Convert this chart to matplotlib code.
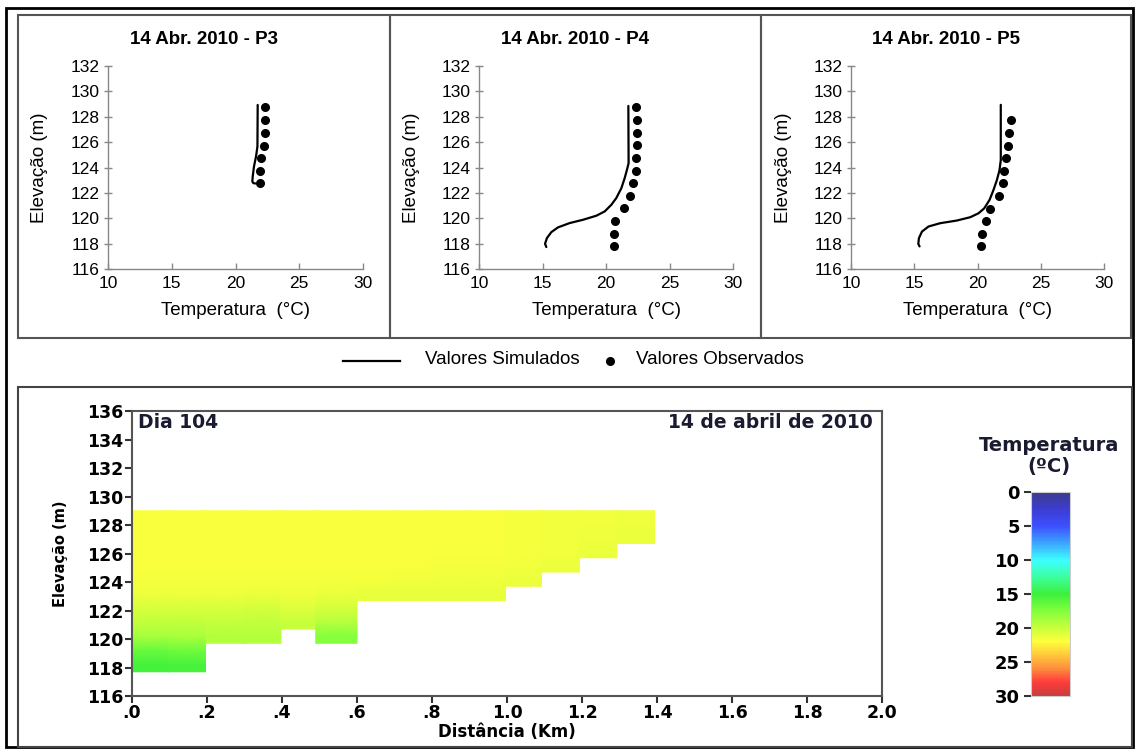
import matplotlib
matplotlib.use("Agg")
import matplotlib.pyplot as plt
import numpy as np
from matplotlib.colors import LinearSegmentedColormap, Normalize
from matplotlib.cm import ScalarMappable
from matplotlib.patches import Rectangle
from matplotlib.lines import Line2D

W, H = 1137, 751

# ---- perfis verticais (14 abr 2010) ----
p3_sim_T = [21.74, 21.72, 21.61, 21.45, 21.35, 21.32, 21.40, 21.56]
p3_sim_z = [128.93, 125.65, 124.87, 124.08, 123.29, 122.90, 122.77, 122.74]
p3_obs_T = [22.3, 22.3, 22.3, 22.2, 22.0, 21.9, 21.9]
p3_obs_z = [128.75, 127.75, 126.7, 125.7, 124.75, 123.7, 122.75]

p4_sim_T = [21.76, 21.78, 21.65, 21.47, 21.21, 20.81, 20.42, 19.90, 19.24,
            18.19, 17.14, 16.22, 15.70, 15.35, 15.20, 15.30]
p4_sim_z = [128.85, 124.34, 123.82, 123.16, 122.37, 121.59, 121.06, 120.54,
            120.20, 119.88, 119.62, 119.28, 118.91, 118.44, 117.99, 117.73]
p4_obs_T = [22.39, 22.44, 22.44, 22.44, 22.39, 22.39, 22.13, 21.86, 21.42,
            20.73, 20.63, 20.63]
p4_obs_z = [128.75, 127.75, 126.7, 125.74, 124.77, 123.72, 122.77, 121.77,
            120.78, 119.75, 118.76, 117.78]

p5_sim_T = [21.84, 21.84, 21.74, 21.53, 21.26, 20.95, 20.53, 20.08, 19.42,
            18.37, 17.05, 16.13, 15.61, 15.37, 15.32, 15.42]
p5_sim_z = [128.94, 124.58, 123.79, 123.00, 122.22, 121.44, 120.78, 120.39,
            120.08, 119.82, 119.61, 119.35, 118.95, 118.43, 117.99, 117.78]
p5_obs_T = [22.63, 22.50, 22.39, 22.24, 22.13, 22.03, 21.71, 20.95, 20.66,
            20.37, 20.24]
p5_obs_z = [127.76, 126.75, 125.7, 124.73, 123.76, 122.8, 121.73, 120.76,
            119.79, 118.75, 117.78]

profiles = [
    ("14 Abr. 2010 - P3", p3_sim_T, p3_sim_z, p3_obs_T, p3_obs_z),
    ("14 Abr. 2010 - P4", p4_sim_T, p4_sim_z, p4_obs_T, p4_obs_z),
    ("14 Abr. 2010 - P5", p5_sim_T, p5_sim_z, p5_obs_T, p5_obs_z),
]

# ---- seção longitudinal: temperatura por coluna (de cima para baixo) ----
dist_edges = [0.0, 0.097, 0.196, 0.297, 0.397, 0.49, 0.60, 0.70, 0.80, 0.90,
              0.996, 1.092, 1.193, 1.293, 1.394]
layer_edges = [129.0, 127.7, 126.7, 125.7, 124.7, 123.7, 122.7, 121.7, 120.7,
               119.7, 118.7, 117.7]
col_temps = [
    [21.7, 21.7, 21.7, 21.7, 21.6, 21.4, 20.6, 19.8, 18.8, 16.6, 15.3],
    [21.7, 21.7, 21.7, 21.7, 21.6, 21.4, 20.6, 19.8, 18.9, 16.8, 15.4],
    [21.7, 21.7, 21.7, 21.7, 21.6, 21.4, 20.6, 19.9, 19.3],
    [21.7, 21.7, 21.7, 21.7, 21.6, 21.3, 20.5, 19.8, 19.3],
    [21.7, 21.7, 21.7, 21.7, 21.6, 21.4, 20.8, 20.0],
    [21.7, 21.7, 21.7, 21.7, 21.6, 21.3, 20.5, 19.4, 17.6],
    [21.7, 21.7, 21.7, 21.7, 21.6, 21.2],
    [21.7, 21.7, 21.7, 21.7, 21.5, 21.2],
    [21.7, 21.7, 21.7, 21.6, 21.4, 21.1],
    [21.7, 21.7, 21.7, 21.6, 21.4, 21.1],
    [21.6, 21.6, 21.6, 21.5, 21.3],
    [21.5, 21.5, 21.5, 21.3],
    [21.5, 21.4, 21.3],
    [21.4, 21.3],
]

cbar_ticks = [0, 5, 10, 15, 20, 25, 30]
cmap_stops = [0, 2.5, 5, 7.5, 10, 12.5, 15, 17.5, 20, 22, 24, 26, 28, 30]
cmap_colors = ["#3c3c8c", "#3c3cd2", "#3c50ff", "#3ca5ff", "#3cffff",
               "#3cffa0", "#3cf03c", "#82ff3c", "#c8ff3c", "#ffff3c",
               "#ffc83c", "#ff8c3c", "#ff3c3c", "#c83c3c"]
cmap = LinearSegmentedColormap.from_list(
    "temp", list(zip(np.array(cmap_stops) / 30.0, cmap_colors)))
norm = Normalize(0, 30)


def fx(x):
    return x / W


def fy(y):
    return 1 - y / H


def box(fig, x0, y0, x1, y1, color, lw):
    fig.add_artist(Rectangle((fx(x0), fy(y1)), (x1 - x0) / W, (y1 - y0) / H,
                             transform=fig.transFigure, fill=False,
                             edgecolor=color, linewidth=lw))


fig = plt.figure(figsize=(W / 100, H / 100), dpi=100)

# molduras
box(fig, 6, 8, 1133, 747, "black", 2.0)
box(fig, 18, 15, 390, 338, "#555555", 1.5)
box(fig, 390, 15, 761, 338, "#555555", 1.5)
box(fig, 761, 15, 1131, 338, "#555555", 1.5)
box(fig, 18, 387, 1132, 747, "#444444", 1.5)

top_font = "Liberation Sans"
ax_lefts = [108, 479, 851]
ax_rights = [363, 733, 1104]
panel_centers = [204, 575, 946]
for (title, sT, sz, oT, oz), l, r, pc in zip(profiles, ax_lefts, ax_rights, panel_centers):
    ax = fig.add_axes([fx(l), fy(269), (r - l) / W, (269 - 66) / H])
    ax.plot(sT, sz, color="black", linewidth=1.6, solid_capstyle="round")
    ax.plot(oT, oz, "o", color="black", markersize=5.5, linestyle="none")
    ax.set_xlim(10, 30)
    ax.set_ylim(116, 132)
    ax.set_xticks([10, 15, 20, 25, 30])
    ax.set_yticks(np.arange(116, 133, 2))
    for s in ("top", "right"):
        ax.spines[s].set_visible(False)
    for s in ("left", "bottom"):
        ax.spines[s].set_color("#888888")
        ax.spines[s].set_linewidth(1.0)
    ax.tick_params(axis="y", direction="inout", length=6, width=1, color="#888888",
                   labelsize=12.5, pad=3)
    ax.tick_params(axis="x", direction="in", length=4, width=1, color="#888888",
                   labelsize=12.5, pad=5)
    for lab in ax.get_xticklabels() + ax.get_yticklabels():
        lab.set_fontfamily(top_font)
    ax.set_xlabel("Temperatura  (°C)", fontsize=13.5, family=top_font)
    ax.set_ylabel("Elevação (m)", fontsize=13.5, family=top_font)
    ax.xaxis.label.set_va("center")
    ax.xaxis.set_label_coords(0.5, -42 / 203)
    ax.yaxis.label.set_va("center")
    ax.yaxis.set_label_coords(-68 / (r - l), 0.5)
    fig.text(fx(pc), fy(40), title, ha="center", va="center", fontsize=13.5,
             fontweight="bold", family=top_font)

# legenda
fig.add_artist(Line2D([fx(343), fx(400)], [fy(361), fy(361)], color="black",
                      linewidth=1.6, transform=fig.transFigure))
fig.text(fx(425), fy(360), "Valores Simulados", ha="left", va="center",
         fontsize=13.5, family=top_font)
fig.add_artist(Line2D([fx(610)], [fy(361)], marker="o", color="black",
                      markersize=5.5, linestyle="none", transform=fig.transFigure))
fig.text(fx(636), fy(360), "Valores Observados", ha="left", va="center",
         fontsize=13.5, family=top_font)

# seção longitudinal
bot_font = "DejaVu Sans"
axb = fig.add_axes([fx(132), fy(696), 750 / W, 285 / H])
for i, temps in enumerate(col_temps):
    n = len(temps)
    centers = [(layer_edges[k] + layer_edges[k + 1]) / 2 for k in range(n)]
    zs = np.array([layer_edges[0]] + centers + [layer_edges[n]])
    vals = np.array([temps[0]] + list(temps) + [temps[-1]])
    X, Z = np.meshgrid([dist_edges[i], dist_edges[i + 1]], zs)
    C = np.column_stack([vals, vals])
    axb.pcolormesh(X, Z, C, cmap=cmap, norm=norm, shading="gouraud",
                   antialiased=False, rasterized=False)
axb.set_xlim(0, 2.0)
axb.set_ylim(116, 136)
xt = np.round(np.arange(0, 2.01, 0.2), 1)
axb.set_xticks(xt)
axb.set_xticklabels([f"{v:.1f}" if v >= 1 else f"{v:.1f}"[1:] for v in xt])
axb.set_yticks(np.arange(116, 137, 2))
for s in axb.spines.values():
    s.set_color("#555555")
    s.set_linewidth(1.5)
axb.tick_params(direction="out", length=5, width=1.5, color="#333333",
                labelsize=12.5, pad=1)
for lab in axb.get_xticklabels() + axb.get_yticklabels():
    lab.set_fontweight("bold")
    lab.set_fontfamily(bot_font)
axb.set_xlabel("Distância (Km)", fontsize=12, fontweight="bold", family=bot_font)
axb.xaxis.label.set_va("center")
axb.xaxis.set_label_coords(0.5, -36 / 285)
axb.set_ylabel("Elevação (m)", fontsize=10.5, fontweight="bold", family=bot_font)
axb.yaxis.label.set_va("center")
axb.yaxis.set_label_coords(-72 / 750, 0.5)
axb.text(0.008, 0.958, "Dia 104", transform=axb.transAxes, ha="left", va="center",
         fontsize=13.5, fontweight="bold", color="#1a1a30", family=bot_font)
axb.text(0.988, 0.958, "14 de abril de 2010", transform=axb.transAxes, ha="right",
         va="center", fontsize=13.5, fontweight="bold", color="#1a1a30",
         family=bot_font)

# barra de cores
cax = fig.add_axes([fx(1031), fy(696), 39 / W, 204 / H])
cb = fig.colorbar(ScalarMappable(norm=norm, cmap=cmap), cax=cax, ticks=cbar_ticks)
cax.invert_yaxis()
cax.yaxis.set_ticks_position("left")
cax.tick_params(direction="out", length=5, width=1.5, color="#333333",
                labelsize=13, pad=3)
for lab in cax.get_yticklabels():
    lab.set_fontweight("bold")
    lab.set_fontfamily(bot_font)
cb.outline.set_edgecolor("#cccccc")
cb.outline.set_linewidth(0.8)
fig.text(fx(1049), fy(456), "Temperatura\n(ºC)", ha="center", va="center",
         fontsize=14, fontweight="bold", color="#1a1a30", family=bot_font,
         linespacing=1.15)

fig.savefig("out.png", dpi=100, facecolor="white")
